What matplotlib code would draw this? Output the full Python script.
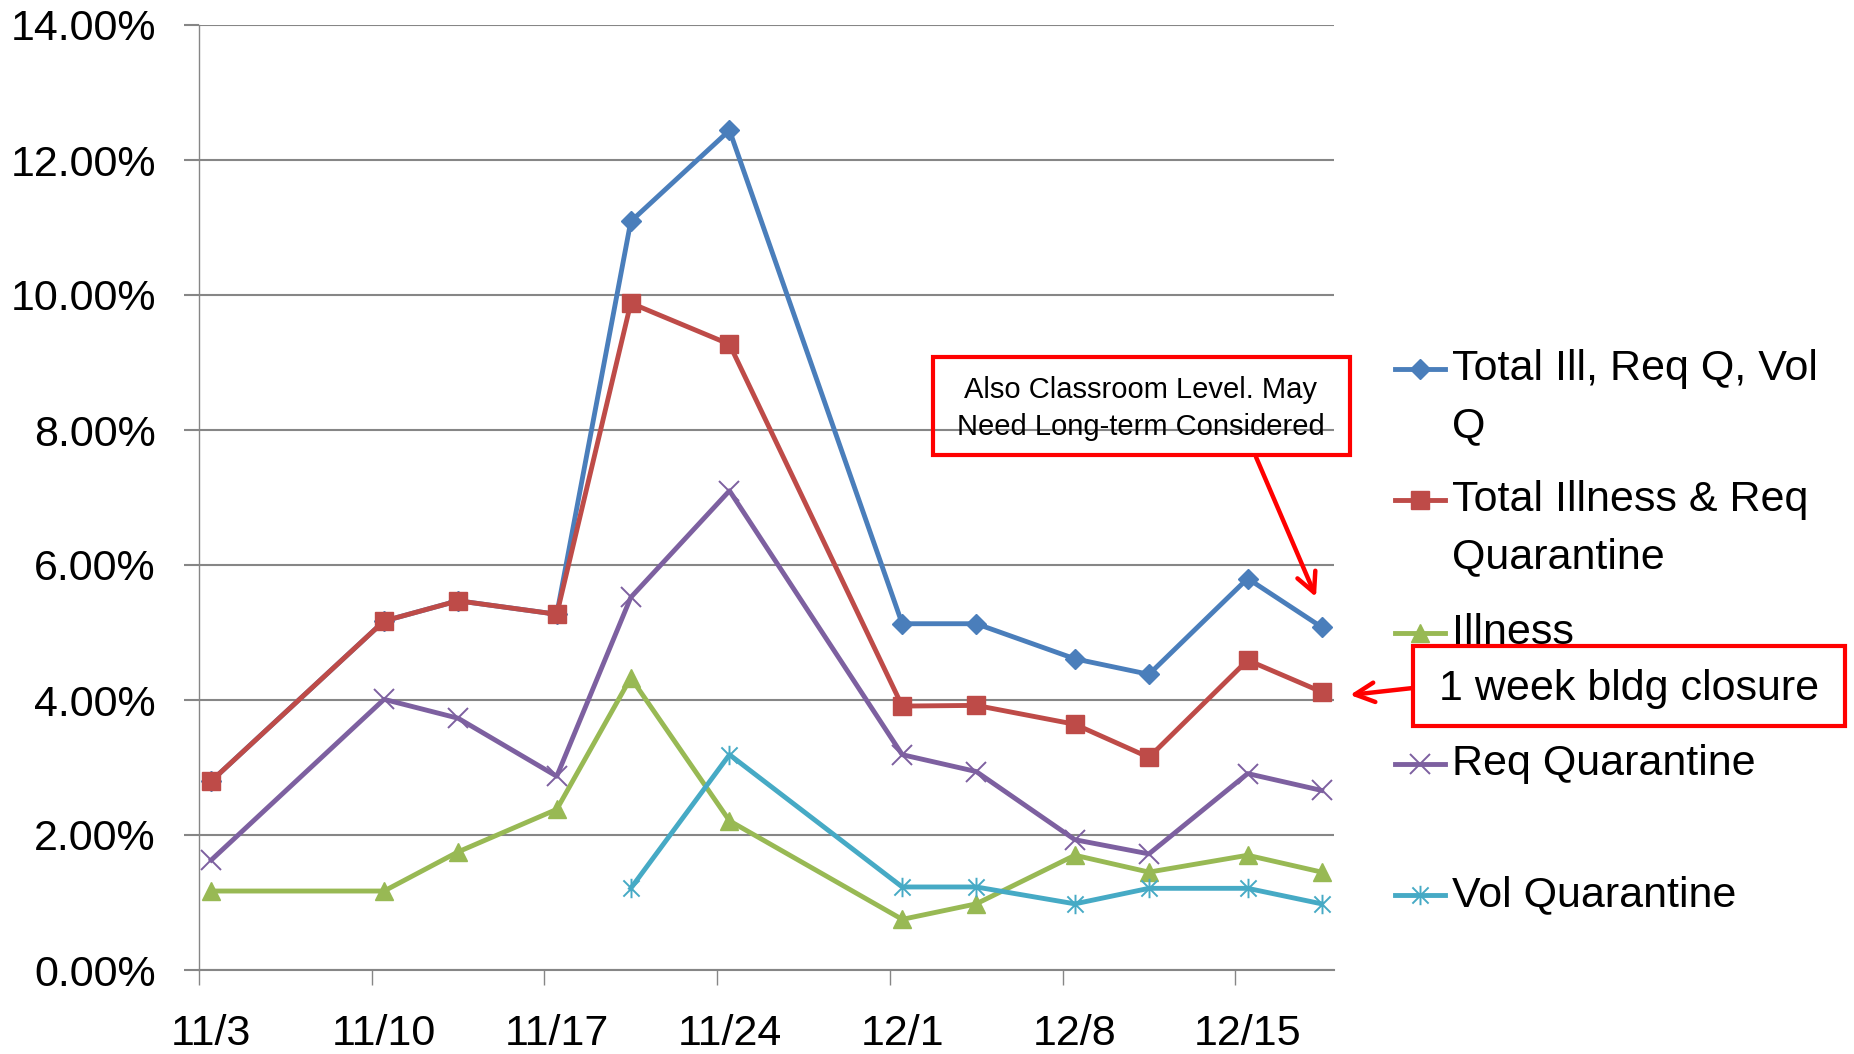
import matplotlib
matplotlib.use("Agg")
import matplotlib.pyplot as plt
import matplotlib.dates as mdates
import matplotlib.ticker as mticker
from matplotlib.path import Path
from matplotlib.lines import Line2D
from matplotlib.patches import Rectangle, FancyArrowPatch
import numpy as np
import pandas as pd

plt.rcParams['font.family'] = ['Liberation Sans', 'DejaVu Sans']

# dates of the reports
dates = ["2020-11-03", "2020-11-10", "2020-11-13", "2020-11-17", "2020-11-20", "2020-11-24",
         "2020-12-01", "2020-12-04", "2020-12-08", "2020-12-11", "2020-12-15", "2020-12-18"]

# percentages
total_all = [2.80, 5.17, 5.47, 5.27, 11.09, 12.44, 5.13, 5.13, 4.61, 4.38, 5.80, 5.08]
total_ill_req = [2.80, 5.17, 5.47, 5.27, 9.88, 9.27, 3.91, 3.92, 3.64, 3.15, 4.59, 4.12]
illness = [1.17, 1.17, 1.75, 2.38, 4.33, 2.21, 0.75, 0.98, 1.70, 1.45, 1.70, 1.45]
req_q = [1.63, 4.01, 3.73, 2.87, 5.52, 7.10, 3.19, 2.94, 1.93, 1.72, 2.91, 2.66]
vol_q = [np.nan, np.nan, np.nan, np.nan, 1.21, 3.19, 1.23, 1.23, 0.98, 1.21, 1.21, 0.98]

labels = ["Total Ill, Req Q, Vol\nQ", "Total Illness & Req\nQuarantine", "Illness",
          "Req Quarantine", "Vol Quarantine"]
colors = ["#4A7EBB", "#BE4B48", "#98B954", "#7D60A0", "#46AAC5"]

W, H = 1854, 1054

def px(x, y):
    return (x / W, 1 - y / H)

# asterisk marker like Excel's: an X plus a vertical bar
star = Path([(-1, -1), (1, 1), (-1, 1), (1, -1), (0, -1.2), (0, 1.2)],
            [Path.MOVETO, Path.LINETO, Path.MOVETO, Path.LINETO, Path.MOVETO, Path.LINETO])

styles = [
    dict(marker="D", ms=10),
    dict(marker="s", ms=13),
    dict(marker="^", ms=13),
    dict(marker="x", ms=14, mew=1.4),
    dict(marker=star, ms=14, mew=1.4),
]

fig = plt.figure(figsize=(W / 100, H / 100), dpi=100)
ax = fig.add_axes([199 / W, 1 - 970 / H, (1334 - 199) / W, (970 - 25) / H])

x = pd.to_datetime(dates) + pd.Timedelta(hours=12)
series = [total_all, total_ill_req, illness, req_q, vol_q]
for vals, c, st in zip(series, colors, styles):
    ax.plot(x, vals, color=c, lw=3.5, mec=c, mfc=c, clip_on=False, **st)

ax.set_ylim(0, 14)
ax.set_xlim(pd.Timestamp("2020-11-03"), pd.Timestamp("2020-12-19"))
ax.yaxis.set_major_locator(mticker.MultipleLocator(2))
ax.yaxis.set_major_formatter(mticker.FuncFormatter(lambda v, p: f"{v:.2f}%"))
ax.grid(axis="y", color="#868686", lw=1.5)
ax.set_axisbelow(True)

week_ticks = pd.date_range("2020-11-03", "2020-12-15", freq="7D")
ax.xaxis.set_major_locator(mticker.FixedLocator(mdates.date2num(week_ticks)))
ax.xaxis.set_major_formatter(mticker.NullFormatter())
ax.xaxis.set_minor_locator(mticker.FixedLocator(mdates.date2num(week_ticks + pd.Timedelta(hours=12))))
ax.xaxis.set_minor_formatter(mticker.FuncFormatter(
    lambda v, p: f"{mdates.num2date(v).month}/{mdates.num2date(v).day}"))

ax.tick_params(axis="x", which="major", length=11, width=1, color="#868686")
ax.tick_params(axis="x", which="minor", length=0, pad=32, labelsize=31)
ax.tick_params(axis="y", length=11, width=1.5, color="#868686", pad=20, labelsize=31)

for s in ["top", "right"]:
    ax.spines[s].set_visible(False)
ax.spines["left"].set_color("#868686")
ax.spines["left"].set_linewidth(1)
ax.spines["bottom"].set_color("#868686")
ax.spines["bottom"].set_linewidth(1.5)

# legend drawn by hand, marker on the first line as Excel does
leg_y = [369, 500, 633, 764, 895]
for lab, c, st, ly in zip(labels, colors, styles, leg_y):
    fig.add_artist(Line2D([1395 / W, 1445 / W], [1 - ly / H] * 2, color=c, lw=3.5,
                          transform=fig.transFigure))
    fig.add_artist(Line2D([1420 / W], [1 - ly / H], color=c, mec=c, mfc=c,
                          transform=fig.transFigure, **st))
    for i, line in enumerate(lab.split("\n")):
        fig.text(*px(1452, ly + 57 * i), line, fontsize=31, va="center", ha="left")

# annotations
fig.add_artist(Rectangle(px(933, 455), 417 / W, 98 / H, transform=fig.transFigure,
                         fill=False, ec="#FF0000", lw=3))
fig.text(*px(1141, 390), "Also Classroom Level. May", fontsize=21, ha="center", va="center")
fig.text(*px(1141, 427), "Need Long-term Considered", fontsize=21, ha="center", va="center")
fig.add_artist(FancyArrowPatch(px(1256, 457), px(1316, 597), transform=fig.transFigure,
                               arrowstyle="->,head_length=14,head_width=7", color="#FF0000",
                               lw=3.2, shrinkA=0, shrinkB=0))

fig.add_artist(Rectangle(px(1413, 726), 432 / W, 80 / H, transform=fig.transFigure,
                         fc="white", ec="#FF0000", lw=3, zorder=5))
fig.text(*px(1629, 689), "1 week bldg closure", fontsize=31, ha="center", va="center", zorder=6)
fig.add_artist(FancyArrowPatch(px(1413, 688), px(1350, 695), transform=fig.transFigure,
                               arrowstyle="->,head_length=14,head_width=7", color="#FF0000",
                               lw=3.2, shrinkA=0, shrinkB=0))

fig.savefig("out.png", dpi=100)
